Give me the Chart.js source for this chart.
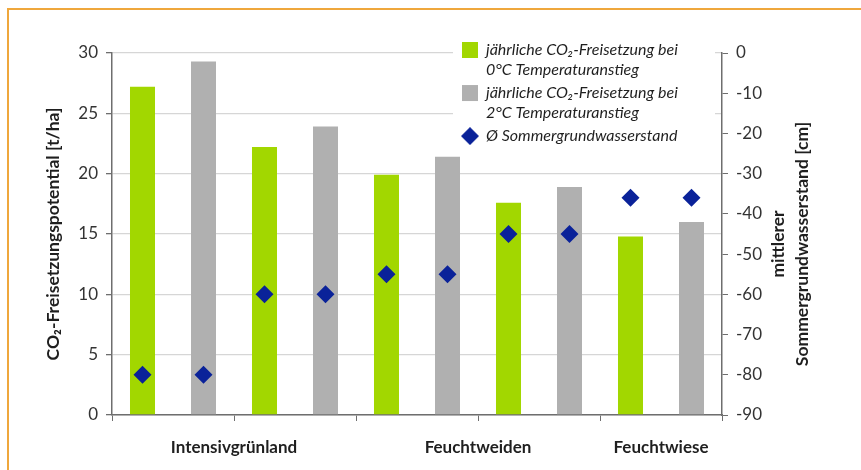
<!DOCTYPE html>
<html>
<head>
<meta charset="utf-8">
<script src="https://cdn.jsdelivr.net/npm/chart.js@4.4.1/dist/chart.umd.min.js"></script>
<style>
  html, body { margin: 0; padding: 0; background: #ffffff; }
  #wrap { position: relative; width: 861px; height: 470px; overflow: hidden; }
  #frame { position: absolute; left: 7px; top: 8px; width: 900px; height: 500px;
           border-left: 2px solid #EFA73C; border-top: 2px solid #EFA73C; pointer-events: none; }
  canvas { position: absolute; left: 0; top: 0; }
</style>
</head>
<body>
<div id="wrap">
  <canvas id="c" width="861" height="470"></canvas>
  <div id="frame"></div>
</div>
<script>
// ---- data ----
const categories = ['Intensivgrünland 1', 'Intensivgrünland 2', 'Feuchtweiden 1', 'Feuchtweiden 2', 'Feuchtwiese'];
const groupLabels = ['Intensivgrünland', 'Feuchtweiden', 'Feuchtwiese'];
const groupSpans = [2, 2, 1];
const co2At0C = [27.2, 22.2, 19.9, 17.6, 14.8];
const co2At2C = [29.3, 23.9, 21.4, 18.9, 16.0];
const groundwater = [-80, -60, -55, -45, -36];
const leftTicks = { min: 0, max: 30, step: 5 };
const rightTicks = { min: -90, max: 0, step: 10 };
const legendLines = [
  ['jährliche CO₂-Freisetzung bei', '0°C Temperaturanstieg'],
  ['jährliche CO₂-Freisetzung bei', '2°C Temperaturanstieg'],
  ['Ø Sommergrundwasserstand']
];
const leftTitle = 'CO₂-Freisetzungspotential [t/ha]';
const rightTitleLines = ['mittlerer', 'Sommergrundwasserstand [cm]'];

// ---- derived (slot 0 = left half of a category, slot 1 = right half) ----
const groupCenters = [];
{ let s = 0; groupSpans.forEach(n => { groupCenters.push(s + n / 2); s += n; }); }
const slotX = (i, slot) => i + 0.25 + 0.5 * slot;
const greenPts = co2At0C.map((v, i) => ({ x: slotX(i, 0), y: v }));
const grayPts = co2At2C.map((v, i) => ({ x: slotX(i, 1), y: v }));
const gwPoints = [];
groundwater.forEach((v, i) => { gwPoints.push({ x: slotX(i, 0), y: v }); gwPoints.push({ x: slotX(i, 1), y: v }); });

const GREEN = '#A2D700', GRAY = '#B0B0B0', BLUE = '#0A2299';
const AXIS = '#6E6E6E', GRID = '#D6D6D6';
const FONT = 'Lato';

const diamond = document.createElement('canvas');
diamond.width = 18; diamond.height = 18;
{ const g = diamond.getContext('2d'); g.fillStyle = BLUE; g.beginPath();
  g.moveTo(9, 0); g.lineTo(18, 9); g.lineTo(9, 18); g.lineTo(0, 9); g.closePath(); g.fill(); }

const legendPlace = {
  id: 'legendPlace',
  afterLayout(chart) {
    const lg = chart.legend;
    lg.left = 458; lg.top = 38; lg.right = chart.chartArea.right - 4; lg.bottom = 220;
    if (!lg._wrapped) {
      const orig = lg.draw.bind(lg);
      lg.draw = function () {
        const ctx = chart.ctx;
        ctx.save(); ctx.fillStyle = '#ffffff';
        ctx.fillRect(lg.left - 5, lg.top - 4, 262, 116);
        ctx.restore();
        orig();
      };
      lg._wrapped = true;
    }
  }
};

const rightTitle = {
  id: 'rightTitle',
  afterDraw(chart) {
    const ctx = chart.ctx;
    ctx.save();
    ctx.translate(778, 244);
    ctx.rotate(-Math.PI / 2);
    ctx.textAlign = 'center'; ctx.textBaseline = 'middle';
    ctx.fillStyle = '#1F1F1F';
    ctx.font = 'bold 17.5px ' + FONT;
    rightTitleLines.forEach((t, i) => ctx.fillText(t, 0, i * 24));
    ctx.restore();
  }
};

const barCommon = { xAxisID: 'xg', yAxisID: 'y', grouped: false, categoryPercentage: 1.0, barPercentage: 0.41, order: 2 };

new Chart(document.getElementById('c'), {
  type: 'bar',
  data: {
    labels: categories,
    datasets: [
      Object.assign({ label: 'jährliche CO₂-Freisetzung bei 0°C Temperaturanstieg', data: greenPts, backgroundColor: GREEN }, barCommon),
      Object.assign({ label: 'jährliche CO₂-Freisetzung bei 2°C Temperaturanstieg', data: grayPts, backgroundColor: GRAY }, barCommon),
      { type: 'scatter', label: 'Ø Sommergrundwasserstand', data: gwPoints, xAxisID: 'xg', yAxisID: 'y2',
        pointStyle: 'rectRot', pointRadius: 9, pointHoverRadius: 9, backgroundColor: BLUE, borderWidth: 0,
        showLine: false, order: 1 }
    ]
  },
  options: {
    responsive: false,
    animation: false,
    devicePixelRatio: 1,
    layout: { padding: { top: 53, left: 0, right: 0, bottom: 0 } },
    plugins: {
      tooltip: { enabled: false },
      legend: {
        position: 'chartArea',
        align: 'start',
        labels: {
          usePointStyle: true,
          boxWidth: 16, boxHeight: 16,
          padding: 4,
          color: '#1F1F1F',
          font: { family: FONT, size: 16, style: 'italic', lineHeight: 1.22 },
          generateLabels(chart) {
            return chart.data.datasets.map((ds, i) => ({
              text: legendLines[i],
              fillStyle: ds.backgroundColor,
              strokeStyle: ds.backgroundColor,
              lineWidth: 0,
              pointStyle: i === 2 ? diamond : 'rect',
              hidden: false,
              datasetIndex: i,
              fontColor: '#1F1F1F'
            }));
          }
        }
      }
    },
    scales: {
      x: {
        type: 'category', position: 'bottom', weight: 0,
        offset: true,
        grid: { offset: true, drawOnChartArea: false, drawTicks: true, tickLength: 6, tickColor: AXIS, lineWidth: 1 },
        border: { color: AXIS, width: 1.5 },
        ticks: { display: false },
        afterFit(s) { s.height = 6; }
      },
      xg: {
        type: 'linear', position: 'bottom', weight: 1,
        offset: false,
        min: 0, max: categories.length,
        grid: { display: false, drawTicks: false },
        border: { display: false },
        afterBuildTicks(s) { s.ticks = groupCenters.map(v => ({ value: v })); },
        ticks: {
          autoSkip: false, maxRotation: 0, padding: 16,
          color: '#1F1F1F',
          font: { family: FONT, size: 17, weight: 'bold' },
          callback(v) { const k = groupCenters.indexOf(v); return k >= 0 ? groupLabels[k] : ''; }
        },
        afterFit(s) { s.height = 470 - 415 - 6; }
      },
      y: {
        type: 'linear', position: 'left',
        min: leftTicks.min, max: leftTicks.max,
        ticks: { stepSize: leftTicks.step, padding: 8, color: '#333333', font: { family: FONT, size: 17 } },
        grid: { color: GRID, lineWidth: 1.3, tickLength: 6, tickColor: AXIS },
        border: { color: AXIS, width: 1.5 },
        title: { display: true, text: leftTitle, color: '#1F1F1F', padding: { top: 43, bottom: 0 },
                 font: { family: FONT, size: 17.5, weight: 'bold' } },
        afterFit(s) { s.width = 112; }
      },
      y2: {
        type: 'linear', position: 'right',
        min: rightTicks.min, max: rightTicks.max,
        ticks: { stepSize: rightTicks.step, padding: 8, color: '#333333', font: { family: FONT, size: 17 } },
        grid: { drawOnChartArea: false, tickLength: 6, tickColor: AXIS },
        border: { color: AXIS, width: 1.5 },
        afterFit(s) { s.width = 861 - 722; }
      }
    }
  },
  plugins: [legendPlace, rightTitle]
});
</script>
</body>
</html>
